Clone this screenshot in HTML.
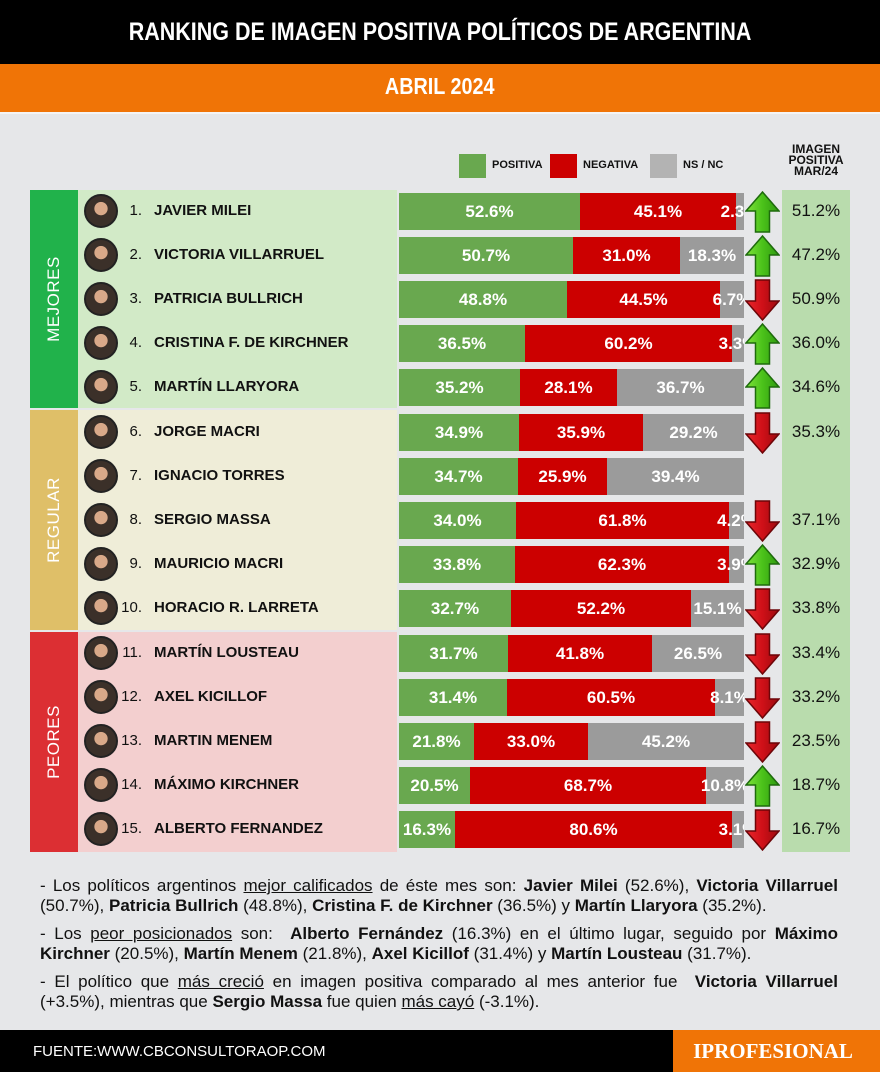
<!DOCTYPE html>
<html><head><meta charset="utf-8">
<style>
*{margin:0;padding:0;box-sizing:border-box}
body{width:880px;height:1072px;background:#e6e7e9;position:relative;overflow:hidden;font-family:"Liberation Sans",Arial,sans-serif}
.abs{position:absolute}
#top{left:0;top:0;width:880px;height:64px;background:#000;color:#fff;text-align:center;line-height:72px}
#top span,#sub span{display:inline-block;transform:scaleX(0.86);white-space:nowrap}
#top span{font:bold 25px "Liberation Sans",sans-serif}
#sub{left:0;top:64px;width:880px;height:50px;background:#f07406;color:#fff;text-align:center;line-height:52px;border-bottom:2px solid #f4f4f4}
#sub span{font:bold 23px "Liberation Sans",sans-serif}
.lg{top:154px;width:27px;height:24px}
.lt{top:159px;font:bold 11px "Liberation Sans",sans-serif;color:#111}
#imghd{left:776px;top:144px;width:80px;text-align:center;font:bold 12px/11px "Liberation Sans",sans-serif;color:#111}
.side{left:30px;width:48px}
.side span{position:absolute;left:50%;top:50%;transform:translate(-50%,-50%) rotate(-90deg);color:#fff;font-size:17px;white-space:nowrap;letter-spacing:0.5px}
.nb{left:78px;width:319px}
.rc{left:782px;width:68px;background:#b9dcad}
.row{position:absolute;left:0;width:880px;height:44px}
.av{position:absolute;left:84px;top:4px;width:34px;height:34px;border-radius:50%;border:2px solid #222;background:radial-gradient(circle at 50% 42%,#d9a989 0 28%,#3b3029 30% 100%)}
.num{position:absolute;left:112px;width:30px;text-align:right;top:12px;font-size:15px;color:#111}
.nm{position:absolute;left:154px;top:12px;font-weight:bold;font-size:15px;color:#111}
.bar{position:absolute;left:399px;top:3px;width:345px;height:37px;display:flex;overflow:hidden}
.bar div{display:flex;align-items:center;justify-content:center;white-space:nowrap;color:#fff;font-weight:bold;font-size:17px;flex:none;overflow:visible}
.g{background:#69a84f}.r{background:#cc0000}.n{background:#9b9b9b}
.val{position:absolute;left:782px;width:68px;top:11px;text-align:center;font-size:17px;color:#111}
.ar{position:absolute;left:745px;top:1px}
#txt{left:40px;top:876px;width:798px;font:17px/20px "Liberation Sans Narrow","Liberation Sans",sans-serif;color:#111;text-align:justify}
#txt p{margin-bottom:8px}
#ft{left:0;top:1030px;width:880px;height:42px;background:#000}
#ftt{left:33px;top:1043px;color:#fff;font:15px "Liberation Sans Narrow","Liberation Sans",sans-serif}
#ipro{left:673px;top:1030px;width:200px;height:42px;background:#f07406;color:#fff;font:bold 21px "Liberation Serif",serif;text-align:center;line-height:42px;font-variant:small-caps}
#iprobg{left:673px;top:1030px;width:207px;height:42px;background:#f07406}
</style></head><body>
<div id="top" class="abs"><span>RANKING DE IMAGEN POSITIVA POLÍTICOS DE ARGENTINA</span></div>
<div id="sub" class="abs"><span>ABRIL 2024</span></div>

<div class="abs lg" style="left:459px;background:#69a84f"></div><div class="abs lt" style="left:492px">POSITIVA</div>
<div class="abs lg" style="left:550px;background:#cc0000"></div><div class="abs lt" style="left:583px">NEGATIVA</div>
<div class="abs lg" style="left:650px;background:#b3b3b3"></div><div class="abs lt" style="left:683px">NS / NC</div>
<div id="imghd" class="abs">IMAGEN<br>POSITIVA<br>MAR/24</div>

<div class="abs side" style="top:190px;height:218px;background:#21b24b"><span>MEJORES</span></div>
<div class="abs side" style="top:410px;height:220px;background:#dfbf68"><span>REGULAR</span></div>
<div class="abs side" style="top:632px;height:220px;background:#dc2f33"><span>PEORES</span></div>
<div class="abs nb" style="top:190px;height:218px;background:#d2eac7"></div>
<div class="abs nb" style="top:410px;height:220px;background:#efedd8"></div>
<div class="abs nb" style="top:632px;height:220px;background:#f3cfcf"></div>
<div class="abs rc" style="top:190px;height:662px"></div>

<svg width="0" height="0" style="position:absolute"><defs>
<linearGradient id="gu" x1="0" x2="1"><stop offset="0" stop-color="#7ee23a"/><stop offset="0.5" stop-color="#4bc21a"/><stop offset="1" stop-color="#2f9a10"/></linearGradient>
<linearGradient id="rd" x1="0" x2="1"><stop offset="0" stop-color="#e8262b"/><stop offset="0.5" stop-color="#cf1018"/><stop offset="1" stop-color="#9c0a0e"/></linearGradient>
</defs></svg>

<div class="row" style="top:190px"><div class="av"></div><div class="num">1.</div><div class="nm">JAVIER MILEI</div>
<div class="bar"><div class="g" style="width:181px">52.6%</div><div class="r" style="width:156px">45.1%</div><div class="n" style="width:8px">2.3%</div></div>
<svg class="ar" width="35" height="42"><polygon points="17.5,1 34,20 24.5,20 24.5,41 10.5,41 10.5,20 1,20" fill="url(#gu)" stroke="#1e6b0c" stroke-width="1.5"/></svg>
<div class="val">51.2%</div></div>

<div class="row" style="top:234px"><div class="av"></div><div class="num">2.</div><div class="nm">VICTORIA VILLARRUEL</div>
<div class="bar"><div class="g" style="width:174px">50.7%</div><div class="r" style="width:107px">31.0%</div><div class="n" style="width:64px">18.3%</div></div>
<svg class="ar" width="35" height="42"><polygon points="17.5,1 34,20 24.5,20 24.5,41 10.5,41 10.5,20 1,20" fill="url(#gu)" stroke="#1e6b0c" stroke-width="1.5"/></svg>
<div class="val">47.2%</div></div>

<div class="row" style="top:278px"><div class="av"></div><div class="num">3.</div><div class="nm">PATRICIA BULLRICH</div>
<div class="bar"><div class="g" style="width:168px">48.8%</div><div class="r" style="width:153px">44.5%</div><div class="n" style="width:24px">6.7%</div></div>
<svg class="ar" width="35" height="42"><polygon points="10.5,1 24.5,1 24.5,22 34,22 17.5,41 1,22 10.5,22" fill="url(#rd)" stroke="#6d0508" stroke-width="1.5"/></svg>
<div class="val">50.9%</div></div>

<div class="row" style="top:322px"><div class="av"></div><div class="num">4.</div><div class="nm">CRISTINA F. DE KIRCHNER</div>
<div class="bar"><div class="g" style="width:126px">36.5%</div><div class="r" style="width:207px">60.2%</div><div class="n" style="width:12px">3.3%</div></div>
<svg class="ar" width="35" height="42"><polygon points="17.5,1 34,20 24.5,20 24.5,41 10.5,41 10.5,20 1,20" fill="url(#gu)" stroke="#1e6b0c" stroke-width="1.5"/></svg>
<div class="val">36.0%</div></div>

<div class="row" style="top:366px"><div class="av"></div><div class="num">5.</div><div class="nm">MARTÍN LLARYORA</div>
<div class="bar"><div class="g" style="width:121px">35.2%</div><div class="r" style="width:97px">28.1%</div><div class="n" style="width:127px">36.7%</div></div>
<svg class="ar" width="35" height="42"><polygon points="17.5,1 34,20 24.5,20 24.5,41 10.5,41 10.5,20 1,20" fill="url(#gu)" stroke="#1e6b0c" stroke-width="1.5"/></svg>
<div class="val">34.6%</div></div>

<div class="row" style="top:411px"><div class="av"></div><div class="num">6.</div><div class="nm">JORGE MACRI</div>
<div class="bar"><div class="g" style="width:120px">34.9%</div><div class="r" style="width:124px">35.9%</div><div class="n" style="width:101px">29.2%</div></div>
<svg class="ar" width="35" height="42"><polygon points="10.5,1 24.5,1 24.5,22 34,22 17.5,41 1,22 10.5,22" fill="url(#rd)" stroke="#6d0508" stroke-width="1.5"/></svg>
<div class="val">35.3%</div></div>

<div class="row" style="top:455px"><div class="av"></div><div class="num">7.</div><div class="nm">IGNACIO TORRES</div>
<div class="bar"><div class="g" style="width:119px">34.7%</div><div class="r" style="width:89px">25.9%</div><div class="n" style="width:137px">39.4%</div></div>
</div>

<div class="row" style="top:499px"><div class="av"></div><div class="num">8.</div><div class="nm">SERGIO MASSA</div>
<div class="bar"><div class="g" style="width:117px">34.0%</div><div class="r" style="width:213px">61.8%</div><div class="n" style="width:15px">4.2%</div></div>
<svg class="ar" width="35" height="42"><polygon points="10.5,1 24.5,1 24.5,22 34,22 17.5,41 1,22 10.5,22" fill="url(#rd)" stroke="#6d0508" stroke-width="1.5"/></svg>
<div class="val">37.1%</div></div>

<div class="row" style="top:543px"><div class="av"></div><div class="num">9.</div><div class="nm">MAURICIO MACRI</div>
<div class="bar"><div class="g" style="width:116px">33.8%</div><div class="r" style="width:214px">62.3%</div><div class="n" style="width:15px">3.9%</div></div>
<svg class="ar" width="35" height="42"><polygon points="17.5,1 34,20 24.5,20 24.5,41 10.5,41 10.5,20 1,20" fill="url(#gu)" stroke="#1e6b0c" stroke-width="1.5"/></svg>
<div class="val">32.9%</div></div>

<div class="row" style="top:587px"><div class="av"></div><div class="num">10.</div><div class="nm">HORACIO R. LARRETA</div>
<div class="bar"><div class="g" style="width:112px">32.7%</div><div class="r" style="width:180px">52.2%</div><div class="n" style="width:53px">15.1%</div></div>
<svg class="ar" width="35" height="42"><polygon points="10.5,1 24.5,1 24.5,22 34,22 17.5,41 1,22 10.5,22" fill="url(#rd)" stroke="#6d0508" stroke-width="1.5"/></svg>
<div class="val">33.8%</div></div>

<div class="row" style="top:632px"><div class="av"></div><div class="num">11.</div><div class="nm">MARTÍN LOUSTEAU</div>
<div class="bar"><div class="g" style="width:109px">31.7%</div><div class="r" style="width:144px">41.8%</div><div class="n" style="width:92px">26.5%</div></div>
<svg class="ar" width="35" height="42"><polygon points="10.5,1 24.5,1 24.5,22 34,22 17.5,41 1,22 10.5,22" fill="url(#rd)" stroke="#6d0508" stroke-width="1.5"/></svg>
<div class="val">33.4%</div></div>

<div class="row" style="top:676px"><div class="av"></div><div class="num">12.</div><div class="nm">AXEL KICILLOF</div>
<div class="bar"><div class="g" style="width:108px">31.4%</div><div class="r" style="width:208px">60.5%</div><div class="n" style="width:29px">8.1%</div></div>
<svg class="ar" width="35" height="42"><polygon points="10.5,1 24.5,1 24.5,22 34,22 17.5,41 1,22 10.5,22" fill="url(#rd)" stroke="#6d0508" stroke-width="1.5"/></svg>
<div class="val">33.2%</div></div>

<div class="row" style="top:720px"><div class="av"></div><div class="num">13.</div><div class="nm">MARTIN MENEM</div>
<div class="bar"><div class="g" style="width:75px">21.8%</div><div class="r" style="width:114px">33.0%</div><div class="n" style="width:156px">45.2%</div></div>
<svg class="ar" width="35" height="42"><polygon points="10.5,1 24.5,1 24.5,22 34,22 17.5,41 1,22 10.5,22" fill="url(#rd)" stroke="#6d0508" stroke-width="1.5"/></svg>
<div class="val">23.5%</div></div>

<div class="row" style="top:764px"><div class="av"></div><div class="num">14.</div><div class="nm">MÁXIMO KIRCHNER</div>
<div class="bar"><div class="g" style="width:71px">20.5%</div><div class="r" style="width:236px">68.7%</div><div class="n" style="width:38px">10.8%</div></div>
<svg class="ar" width="35" height="42"><polygon points="17.5,1 34,20 24.5,20 24.5,41 10.5,41 10.5,20 1,20" fill="url(#gu)" stroke="#1e6b0c" stroke-width="1.5"/></svg>
<div class="val">18.7%</div></div>

<div class="row" style="top:808px"><div class="av"></div><div class="num">15.</div><div class="nm">ALBERTO FERNANDEZ</div>
<div class="bar"><div class="g" style="width:56px">16.3%</div><div class="r" style="width:277px">80.6%</div><div class="n" style="width:12px">3.1%</div></div>
<svg class="ar" width="35" height="42"><polygon points="10.5,1 24.5,1 24.5,22 34,22 17.5,41 1,22 10.5,22" fill="url(#rd)" stroke="#6d0508" stroke-width="1.5"/></svg>
<div class="val">16.7%</div></div>

<div id="txt" class="abs">
<p>- Los políticos argentinos <u>mejor calificados</u> de éste mes son: <b>Javier Milei</b> (52.6%), <b>Victoria Villarruel</b> (50.7%), <b>Patricia Bullrich</b> (48.8%), <b>Cristina F. de Kirchner</b> (36.5%) y <b>Martín Llaryora</b> (35.2%).</p>
<p>- Los <u>peor posicionados</u> son: &nbsp;<b>Alberto Fernández</b> (16.3%) en el último lugar, seguido por <b>Máximo Kirchner</b> (20.5%), <b>Martín Menem</b> (21.8%), <b>Axel Kicillof</b> (31.4%) y <b>Martín Lousteau</b> (31.7%).</p>
<p>- El político que <u>más creció</u> en imagen positiva comparado al mes anterior fue &nbsp;<b>Victoria Villarruel</b> (+3.5%), mientras que <b>Sergio Massa</b> fue quien <u>más cayó</u> (-3.1%).</p>
</div>

<div id="ft" class="abs"></div>
<div id="ftt" class="abs">FUENTE:WWW.CBCONSULTORAOP.COM</div>
<div id="iprobg" class="abs"></div>
<div id="ipro" class="abs">IPROFESIONAL</div>
</body></html>
